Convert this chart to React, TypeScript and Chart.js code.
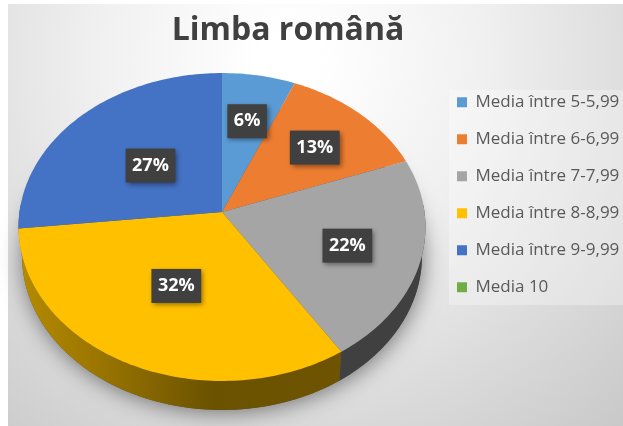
import React, { useEffect, useRef } from "react";
import { Chart, registerables } from "chart.js";

Chart.register(...registerables);

const titleText = "Limba română";
const categories = ["Media între 5-5,99", "Media între 6-6,99", "Media între 7-7,99", "Media între 8-8,99", "Media între 9-9,99", "Media 10"];
const percentages = [6.4, 13.0, 21.5, 32.4, 26.7, 0];
const sliceColors = ["#5b9bd5", "#ed7d31", "#a5a5a5", "#ffc000", "#4472c4", "#70ad47"];
const wallColors = ["#3a6a94", "#a04f1c", "#404040", "#9c7700", "#2c4f8a", "#4a7a2e"];
const labelRadii = [0.66, 0.66, 0.64, 0.5, 0.49, 0.5];

const FONT = '"Open Sans", sans-serif';
const CX = 222, CY = 212, A = 202.5, B = 152.5, K = 0.0974;

function project(angle: number, depth = 0, r = 1): [number, number] {
  const u = Math.cos(angle) * r;
  const v = Math.sin(angle) * r;
  const w = 1 - K * v;
  const s = 1 - depth * 0.0006;
  return [CX + (A * s * u) / w, CY + depth + (B * v) / w];
}

function arcPoints(start: number, end: number, depth = 0): [number, number][] {
  const pts: [number, number][] = [];
  const n = Math.max(2, Math.ceil(Math.abs(end - start) / 0.02));
  for (let i = 0; i <= n; i++) pts.push(project(start + ((end - start) * i) / n, depth));
  return pts;
}

const piePlugin = {
  id: "tiltedPie",
  afterLayout(chart: any) {
    chart.titleBlock.left = 0;
    chart.titleBlock.right = 576;
    chart.legend.left = 437;
  },
  beforeDraw(chart: any) {
    const { ctx, width, height } = chart;
    ctx.save();
    ctx.fillStyle = "#ffffff";
    ctx.fillRect(0, 0, width, height);
    const g = ctx.createRadialGradient(290, 60, 30, 290, 60, 500);
    g.addColorStop(0, "#ffffff");
    g.addColorStop(0.35, "#f0f0f0");
    g.addColorStop(1, "#c8c8c8");
    ctx.fillStyle = g;
    ctx.fillRect(8, 4, width - 8, height - 4);
    ctx.fillStyle = "rgba(255,255,255,0.3)";
    ctx.fillRect(449, 90, width - 449, 215);
    ctx.restore();
  },
  beforeDatasetDraw(chart: any, args: any) {
    const { ctx } = chart;
    const arcs = args.meta.data as any[];
    const DEPTH = 29;
    ctx.save();

    // soft shadow under the pie
    ctx.save();
    ctx.shadowColor = "rgba(0,0,0,0.5)";
    ctx.shadowBlur = 22;
    ctx.shadowOffsetX = 1;
    ctx.shadowOffsetY = 2;
    ctx.fillStyle = "#555555";
    ctx.beginPath();
    arcPoints(0, Math.PI * 2, DEPTH).forEach(([x, y], i) => (i ? ctx.lineTo(x, y) : ctx.moveTo(x, y)));
    ctx.closePath();
    ctx.fill();
    ctx.restore();

    // side wall, only the lower half of each slice shows
    arcs.forEach((arc, i) => {
      const start = Math.max(arc.startAngle, -0.05);
      const end = Math.min(arc.endAngle, Math.PI + 0.05);
      if (end <= start) return;
      const top = arcPoints(start, end, 0);
      const bottom = arcPoints(start, end, DEPTH).reverse();
      ctx.beginPath();
      [...top, ...bottom].forEach(([x, y], j) => (j ? ctx.lineTo(x, y) : ctx.moveTo(x, y)));
      ctx.closePath();
      if (i === 3) {
        const g = ctx.createLinearGradient(18, 0, 342, 0);
        g.addColorStop(0, "#b58b00");
        g.addColorStop(0.25, "#9a7500");
        g.addColorStop(0.6, "#6b5200");
        g.addColorStop(1, "#6e5400");
        ctx.fillStyle = g;
      } else {
        ctx.fillStyle = wallColors[i];
      }
      ctx.fill();
    });

    // top face
    arcs.forEach((arc, i) => {
      if (arc.endAngle - arc.startAngle <= 0) return;
      ctx.beginPath();
      ctx.moveTo(CX, CY);
      arcPoints(arc.startAngle, arc.endAngle).forEach(([x, y]) => ctx.lineTo(x, y));
      ctx.closePath();
      ctx.fillStyle = sliceColors[i];
      ctx.fill();
    });
    ctx.restore();
    return false;
  },
  afterDatasetsDraw(chart: any) {
    const { ctx } = chart;
    const arcs = chart.getDatasetMeta(0).data as any[];
    ctx.save();
    ctx.font = `bold 18px ${FONT}`;
    ctx.textAlign = "center";
    ctx.textBaseline = "middle";
    arcs.forEach((arc, i) => {
      if (percentages[i] === 0) return;
      const [x, y0] = project((arc.startAngle + arc.endAngle) / 2, 0, labelRadii[i]);
      const y = y0 + 2;
      const text = `${Math.round(percentages[i])}%`;
      const w = ctx.measureText(text).width + 13;
      const h = 34;
      ctx.save();
      ctx.shadowColor = "rgba(0,0,0,0.45)";
      ctx.shadowBlur = 5;
      ctx.shadowOffsetX = 2;
      ctx.shadowOffsetY = 2;
      ctx.fillStyle = "#404040";
      ctx.fillRect(x - w / 2, y - h / 2, w, h);
      ctx.restore();
      ctx.fillStyle = "#ffffff";
      ctx.fillText(text, x, y);
    });
    ctx.restore();
  },
};

export default function App() {
  const ref = useRef<HTMLCanvasElement>(null);
  useEffect(() => {
    const chart = new Chart(ref.current!, {
      type: "pie",
      data: {
        labels: categories,
        datasets: [{ data: percentages, backgroundColor: sliceColors, borderWidth: 0 }],
      },
      options: {
        responsive: false,
        animation: false,
        layout: { padding: { left: 128, top: 0, right: 0, bottom: 91 } },
        plugins: {
          tooltip: { enabled: false },
          title: {
            display: true,
            text: titleText,
            color: "#404040",
            fullSize: false,
            font: { family: FONT, size: 32, weight: "bold" },
            padding: { top: 12, bottom: 4 },
          },
          legend: {
            position: "right",
            align: "center",
            fullSize: false,
            labels: {
              color: "#595959",
              boxWidth: 10,
              boxHeight: 10,
              padding: 20,
              font: { family: FONT, size: 17 },
            },
          },
        },
      },
      plugins: [piePlugin],
    } as any);
    return () => chart.destroy();
  }, []);
  return <canvas ref={ref} width={623} height={426} style={{ position: "fixed", left: 0, top: 0, display: "block" }} />;
}
